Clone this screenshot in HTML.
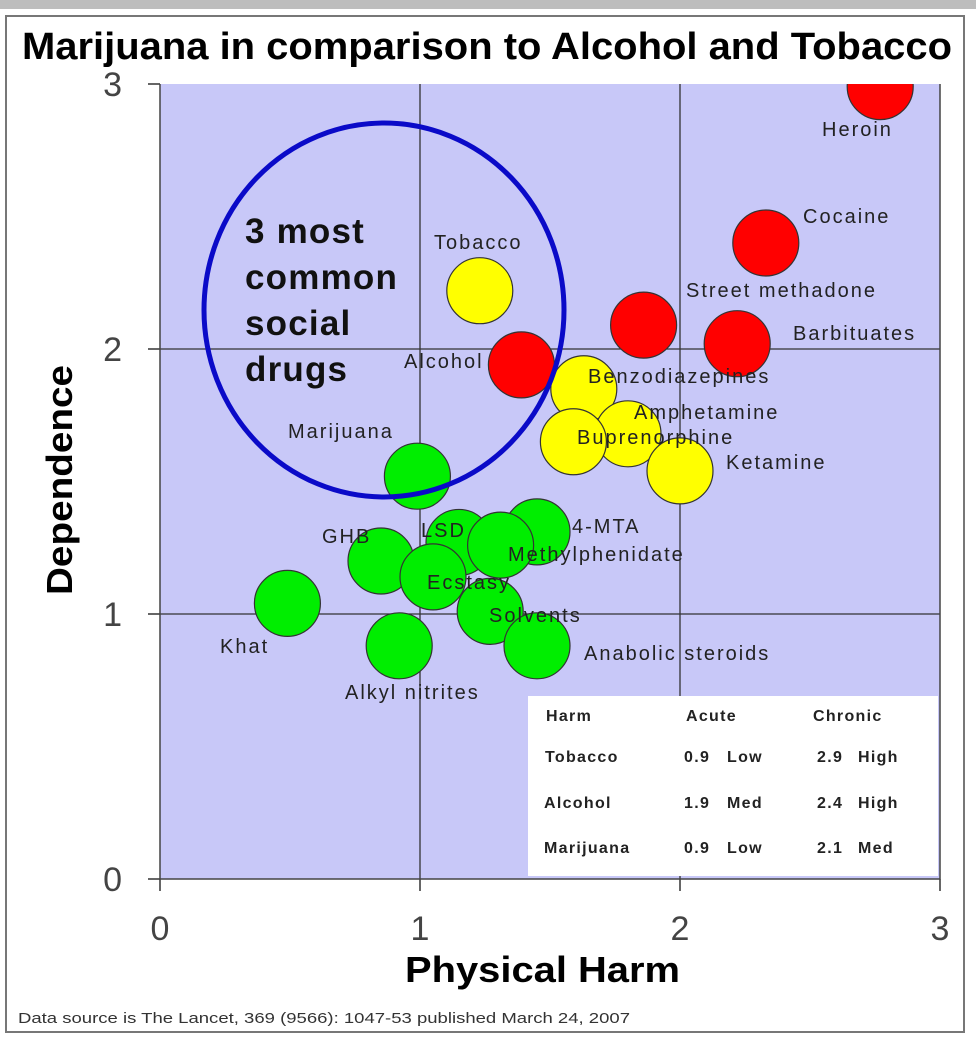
<!DOCTYPE html>
<html><head><meta charset="utf-8"><style>
body{margin:0;background:#fff;width:976px;height:1041px;overflow:hidden;font-family:"Liberation Sans",sans-serif}
</style></head><body>
<svg id="chart" width="976" height="1041" viewBox="0 0 976 1041" xmlns="http://www.w3.org/2000/svg">
<defs><clipPath id="plotclip"><rect x="160" y="84" width="780" height="795"/></clipPath></defs>
<rect x="0" y="0" width="976" height="9" fill="#bdbdbd"/>
<rect x="6" y="16" width="958" height="1016" fill="#fff" stroke="#777" stroke-width="2"/>
<text x="22" y="59" textLength="930" lengthAdjust="spacingAndGlyphs" font-size="38" font-weight="bold" fill="#000">Marijuana in comparison to Alcohol and Tobacco</text>
<rect x="160" y="84" width="780" height="795" fill="#c8c8f8"/>
<g id="grid"></g>
<g id="marks" clip-path="url(#plotclip)"></g>
<ellipse cx="384" cy="310" rx="180" ry="187" fill="none" stroke="#0a0ac8" stroke-width="5"/>
<text font-size="35" font-weight="bold" fill="#111" letter-spacing="1.2"><tspan x="245" y="243">3 most</tspan><tspan x="245" y="289">common</tspan><tspan x="245" y="335">social</tspan><tspan x="245" y="381">drugs</tspan></text>
<g id="labels" font-size="20" fill="#222" letter-spacing="2"></g>
<rect x="528" y="696" width="410" height="180" fill="#fff"/>
<g font-size="16" font-weight="bold" fill="#222" letter-spacing="1.3">
<text x="546" y="721">Harm</text><text x="686" y="721">Acute</text><text x="813" y="721">Chronic</text>
<text x="545" y="762">Tobacco</text><text x="684" y="762">0.9</text><text x="727" y="762">Low</text><text x="817" y="762">2.9</text><text x="858" y="762">High</text>
<text x="544" y="808">Alcohol</text><text x="684" y="808">1.9</text><text x="727" y="808">Med</text><text x="817" y="808">2.4</text><text x="858" y="808">High</text>
<text x="544" y="853">Marijuana</text><text x="684" y="853">0.9</text><text x="727" y="853">Low</text><text x="817" y="853">2.1</text><text x="858" y="853">Med</text>
</g>
<g id="axes"></g>
<text x="405" y="982" textLength="275" lengthAdjust="spacingAndGlyphs" font-size="36" font-weight="bold">Physical Harm</text>
<text transform="translate(72,595) rotate(-90)" textLength="230" lengthAdjust="spacingAndGlyphs" font-size="36" font-weight="bold">Dependence</text>
<text x="18" y="1023" textLength="612" lengthAdjust="spacingAndGlyphs" font-size="15" fill="#333">Data source is The Lancet, 369 (9566): 1047-53 published March 24, 2007</text>
</svg>
<script>
const drugNames=["Heroin","Cocaine","Street methadone","Barbituates","Tobacco","Alcohol","Benzodiazepines","Amphetamine","Buprenorphine","Ketamine","Marijuana","LSD","4-MTA","Methylphenidate","GHB","Ecstasy","Solvents","Khat","Alkyl nitrites","Anabolic steroids"];
const physicalHarm=[2.77,2.33,1.86,2.22,1.23,1.39,1.63,1.80,1.59,2.00,0.99,1.15,1.45,1.31,0.85,1.05,1.27,0.49,0.92,1.45];
const dependence=[2.99,2.40,2.09,2.02,2.22,1.94,1.85,1.68,1.65,1.54,1.52,1.27,1.31,1.26,1.20,1.14,1.01,1.04,0.88,0.88];
const drugColors=["red","red","red","red","yellow","red","yellow","yellow","yellow","yellow","green","green","green","green","green","green","green","green","green","green"];
const xTicks=[0,1,2,3];
const yTicks=[0,1,2,3];
const labelPos=[[822,136],[803,223],[686,297],[793,340],[434,249],[404,368],[588,383],[634,419],[577,444],[726,469],[288,438],[421,537],[572,533],[508,561],[322,543],[427,589],[489,622],[220,653],[345,699],[584,660]];
const NS="http://www.w3.org/2000/svg";
const X=v=>160+260*v, Y=v=>879-265*v;
const fills={red:"#ff0000",yellow:"#ffff00",green:"#00ee00"};
function mk(t,a,p){const e=document.createElementNS(NS,t);for(const k in a)e.setAttribute(k,a[k]);p.appendChild(e);return e;}
const grid=document.getElementById('grid'),axes=document.getElementById('axes'),marks=document.getElementById('marks'),labels=document.getElementById('labels');
xTicks.forEach(t=>{if(t>0&&t<3){const l=mk('line',{x1:X(t),x2:X(t),y1:Y(3),y2:Y(0),stroke:'#333','stroke-width':1.3},grid);

}
const tk=mk('line',{x1:X(t),x2:X(t),y1:Y(0),y2:Y(0)+12,stroke:'#333','stroke-width':1.5},axes);


const tx=mk('text',{x:X(t),y:940,'text-anchor':'middle','font-size':34,fill:'#444'},axes);tx.textContent=t;

});
yTicks.forEach(t=>{if(t>0&&t<3){const l=mk('line',{x1:X(0),x2:X(3),y1:Y(t),y2:Y(t),stroke:'#333','stroke-width':1.3},grid);

}
const tk=mk('line',{x1:X(0)-12,x2:X(0),y1:Y(t),y2:Y(t),stroke:'#333','stroke-width':1.5},axes);


const tx=mk('text',{x:122,y:Y(t)+12,'text-anchor':'end','font-size':34,fill:'#444'},axes);tx.textContent=t;

});
const ax=mk('path',{d:`M${X(0)} ${Y(3)}V${Y(0)}H${X(3)}V${Y(3)}`,fill:'none',stroke:'#444','stroke-width':1.5},axes);


drugNames.forEach((n,i)=>{const c=mk('circle',{cx:X(physicalHarm[i]),cy:Y(dependence[i]),r:33,fill:fills[drugColors[i]],stroke:'#333','stroke-width':1.2},marks);


const t=mk('text',{x:labelPos[i][0],y:labelPos[i][1]},labels);t.textContent=n;

});
</script>
</body></html>
